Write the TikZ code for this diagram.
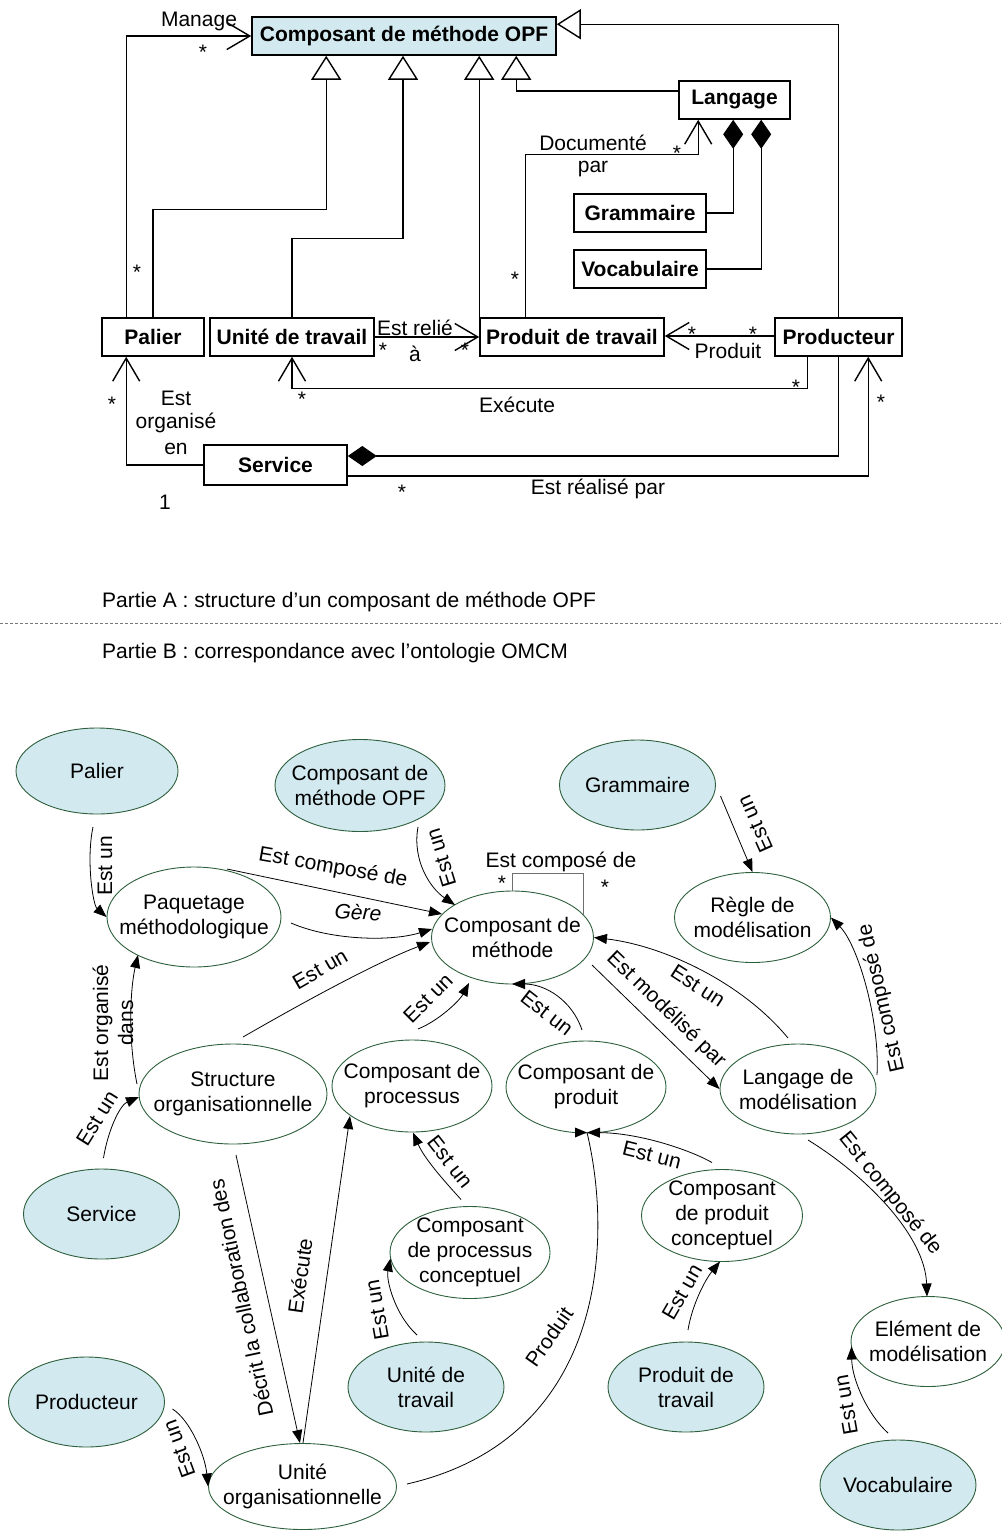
\documentclass[tikz,border=0pt]{standalone}
\usepackage{fontspec}
\setmainfont{Liberation Sans}
\usetikzlibrary{arrows.meta,calc,shapes.geometric}

\definecolor{paleblue}{RGB}{210,233,239}
\definecolor{rimgreen}{RGB}{45,95,60}
\definecolor{loopgray}{RGB}{110,110,110}
\definecolor{dashgray}{RGB}{120,120,120}

\newcommand\dgfont{\fontsize{21}{25}\selectfont}

\begin{document}
\begin{tikzpicture}[x=1pt,y=-1pt,
  every node/.style={font=\dgfont, inner sep=0pt},
  umlbox/.style={draw, line width=1.6pt, minimum height=38pt, font=\dgfont\bfseries},
  assoc/.style={line width=1.1pt, -{Straight Barb[length=23pt,width=27pt,line width=1.4pt]}},
  inherit/.style={line width=1.1pt, -{Triangle[open,length=24pt,width=30pt,line width=1.4pt]}},
  compose/.style={line width=1.1pt, {Diamond[length=29pt,width=20pt]}-},
  mult/.style={anchor=base},
  concept/.style={ellipse, draw=rimgreen, line width=0.9pt, align=center, inner xsep=-30pt, inner ysep=-6pt},
  source/.style={concept, fill=paleblue},
  relline/.style={line width=0.8pt},
  rel/.style={relline, -{Triangle[length=13pt,width=10pt]}},
  looprel/.style={draw=loopgray, line width=1pt},
]
\path[use as bounding box] (0,0) rectangle (1001,1533);

% ---------- Part A: UML structure ----------
\node[umlbox, fill=paleblue, minimum width=304pt] (opf) at (404,36) {Composant de méthode OPF};
\node[umlbox, minimum width=111pt] (lang) at (734.5,100) {Langage};
\node[umlbox, minimum width=132pt] (gram) at (640,213) {Grammaire};
\node[umlbox, minimum width=132pt] (voc) at (640,269) {Vocabulaire};
\node[umlbox, minimum width=102pt] (pal) at (153,337) {Palier};
\node[umlbox, minimum width=164pt] (ut) at (292,337) {Unité de travail};
\node[umlbox, minimum width=184pt] (pt) at (572,337) {Produit de travail};
\node[umlbox, minimum width=127pt] (prod) at (838.5,337) {Producteur};
\node[umlbox, minimum width=143pt, minimum height=40pt] (serv) at (275.5,465) {Service};

% generalisations
\draw[inherit] (pal.north) |- ($(opf.south west)+(75,154)$) -- ($(opf.south west)+(75,0)$);
\draw[inherit] (ut.north) |- ($(opf.south)+(-1,183)$) -- ($(opf.south)+(-1,0)$);
\draw[inherit] (pt.north west) -- (pt.north west |- opf.south);
\draw[inherit] ($(lang.west)+(0,-9)$) -| ($(opf.south west)+(265,0)$);
\draw[inherit] (prod.north) |- ($(opf.north east)+(0,8)$);

% associations
\draw[assoc] ($(pal.north west)+(25,0)$) |- (opf.west);
\draw[assoc] ($(pt.north west)+(46,0)$) |- ($(lang.south west)+(20,35)$) -- ($(lang.south west)+(20,0)$);
\draw[assoc] (ut.east) -- (pt.west);
\draw[assoc] ($(prod.west)+(0,-1)$) -- ($(pt.east)+(0,-1)$);
\draw[assoc] ($(prod.south west)+(33,0)$) |- ($(ut.south)+(0,32)$) -- (ut.south);
\draw[assoc] (serv.west) -| ($(pal.south west)+(25,0)$);
\draw[assoc] ($(serv.east)+(0,11)$) -| ($(prod.south west)+(94,0)$);

% compositions
\draw[compose] ($(lang.south west)+(55,0)$) |- (gram.east);
\draw[compose] ($(lang.south west)+(83,0)$) |- (voc.east);
\draw[compose] ($(serv.east)+(0,-9)$) -| (prod.south);

% role names and multiplicities (base = baseline of the last line)
\node[anchor=base] at (199,27) {Manage};
\node[anchor=base, align=center] at (593,173) {Documenté\\[-3pt]par};
\node[anchor=base] at (415,335) {Est relié};
\node[anchor=base] at (415,361) {à};
\node[anchor=base] at (728,358) {Produit};
\node[anchor=base] at (517,412) {Exécute};
\node[anchor=base, align=center] at (176,454) {Est\\[-2pt]organisé\\[1pt]en};
\node[anchor=base] at (165,509) {1};
\node[anchor=base] at (598,494) {Est réalisé par};

\foreach \sx/\sy in {203/60, 137/279, 677/161, 515/286, 383/357, 465/357,
                     692/341, 753/341, 302/406, 796/394, 112/411, 402/499, 881/409}
  \node[mult] at (\sx,\sy) {*};

% ---------- separation ----------
\node[anchor=base west] at (102,607) {Partie A : structure d’un composant de méthode OPF};
\draw[dashgray, line width=0.8pt, dash pattern=on 3pt off 2pt] (0,623) -- (1001,623);
\node[anchor=base west] at (102,658) {Partie B : correspondance avec l’ontologie OMCM};

% ---------- Part B: OMCM concepts ----------
\node[source, minimum width=162pt, minimum height=86pt] (pal2) at (97,771) {Palier};
\node[source, minimum width=170pt, minimum height=92pt] (opf2) at (360,785.5) {Composant de\\méthode OPF};
\node[source, minimum width=156pt, minimum height=90pt] (gram2) at (637.5,785) {Grammaire};
\node[concept, minimum width=174pt, minimum height=100pt] (paq) at (194,917) {Paquetage\\méthodologique};
\node[concept, minimum width=162pt, minimum height=93pt] (cm) at (512.5,937.5) {Composant de\\méthode};
\node[concept, minimum width=156pt, minimum height=90pt] (regle) at (752.5,917.5) {Règle de\\modélisation};
\node[concept, minimum width=188pt, minimum height=100pt] (struct) at (233,1094) {Structure\\organisationnelle};
\node[concept, minimum width=160pt, minimum height=92pt] (cp) at (412,1086) {Composant de\\processus};
\node[concept, minimum width=160pt, minimum height=92pt] (cprod) at (586,1087) {Composant de\\produit};
\node[concept, minimum width=156pt, minimum height=90pt] (langm) at (798,1089) {Langage de\\modélisation};
\node[source, minimum width=156pt, minimum height=90pt] (serv2) at (101.5,1214) {Service};
\node[concept, minimum width=160pt, minimum height=92pt] (cpc) at (470,1252.5) {Composant\\de processus\\conceptuel};
\node[concept, minimum width=161pt, minimum height=92pt] (cprc) at (722,1215.5) {Composant\\de produit\\conceptuel};
\node[concept, minimum width=154pt, minimum height=90pt] (elem) at (928,1341.5) {Elément de\\modélisation};
\node[source, minimum width=156pt, minimum height=90pt] (ut2) at (426,1387) {Unité de\\travail};
\node[source, minimum width=156pt, minimum height=90pt] (pt2) at (686,1387) {Produit de\\travail};
\node[source, minimum width=156pt, minimum height=90pt] (prod2) at (86.5,1402) {Producteur};
\node[concept, minimum width=188pt, minimum height=86pt] (uo) at (302.5,1486.5) {Unité\\organisationnelle};
\node[source, minimum width=156pt, minimum height=90pt] (voc2) at (898,1485) {Vocabulaire};

% meeting point of the two arrows under "Composant de produit"
\coordinate (cprodtip) at ($(cprod)+(1,45.5)$);

% relations
\draw[rel] ($(pal2)+(-4,56)$) .. controls (86,860) and (93,905) .. (paq.west);
\node[rotate=90] at (105,866) {Est un};

\draw[rel] ($(paq)+(33,-48)$) -- ($(cm)+(-70.5,-23.5)$);
\node[rotate=-10] at (333,868) {Est composé de};

\draw[rel] ($(paq)+(97,6)$) .. controls (330,940) and (390,942) .. ($(cm)+(-80.5,-8.5)$);
\node[rotate=-3, font=\dgfont\itshape] at (358,912) {Gère};

\draw[rel] ($(struct)+(10,-57)$) .. controls (290,1010) and (370,965) .. ($(cm)+(-82.5,4.5)$);
\node[rotate=30] at (320,969) {Est un};

\draw[rel] ($(opf2)+(58,41.5)$) .. controls (412,860) and (430,888) .. ($(cm)+(-57.5,-32.5)$);
\node[rotate=107] at (441,858) {Est un};

\draw[rel] ($(cp)+(6,-57)$) .. controls (440,1020) and (460,1000) .. ($(cm)+(-43.5,45.5)$);
\node[rotate=45] at (428,998) {Est un};

\draw[rel] ($(cprod)+(-4,-57)$) .. controls (572,1000) and (545,984) .. ($(cm)+(-0.5,46.5)$);
\node[rotate=-38] at (547,1013) {Est un};

\draw[rel] ($(cm)+(79.5,27.5)$) -- (langm.west);
\node[rotate=-44] at (666,1010) {Est modélisé par};

\draw[rel] ($(langm)+(-10,-51)$) .. controls (740,980) and (660,945) .. (cm.east);
\node[rotate=-33] at (698,986) {Est un};

\draw[rel] ($(langm)+(79,-14)$) .. controls (880,1020) and (858,945) .. (regle.east);
\node[rotate=103] at (882,998) {Est composé de};

\draw[rel] ($(gram2)+(83,11)$) -- (regle.north);
\node[rotate=114] at (755,824) {Est un};

\draw[looprel] (cm.north) -- ++(0,-17) -| ($(cm)+(70.5,-23)$);
\node[anchor=base] at (561,867) {Est composé de};
\node[mult] at (502,890) {*};
\node[mult] at (605,894) {*};

\draw[rel] ($(serv2)+(2,-56)$) .. controls (108,1130) and (120,1105) .. ($(struct)+(-94,3)$);
\node[rotate=58] at (97,1118) {Est un};

\draw[rel] ($(struct)+(-96,-10)$) .. controls (128,1040) and (130,990) .. ($(paq)+(-56,38)$);
\node[rotate=90, align=center] at (113,1023) {Est organisé\\dans};

\draw[rel] ($(struct)+(3,61)$) -- ($(uo)+(-2.5,-43.5)$);
\node[rotate=102] at (241,1298) {Décrit la collaboration des};

\draw[rel] ($(uo)+(0.5,-43.5)$) -- ($(cp)+(-62,30)$);
\node[rotate=82] at (300,1276) {Exécute};

% "Produit": the curve rises to the tip, its head lies flat, pointing right
\draw[relline] ($(uo)+(104.5,-2.5)$) .. controls (600,1440) and (615,1250) .. (cprodtip);
\fill (cprodtip) -- ++(-12,-5) -- ++(0,10) -- cycle;
\node[rotate=55] at (549,1337) {Produit};

\draw[rel] ($(cpc)+(-9,-53)$) .. controls (448,1185) and (425,1160) .. ($(cp)+(1,46.5)$);
\node[rotate=-52] at (450,1162) {Est un};

\draw[rel] ($(ut2)+(-9,-52)$) .. controls (395,1315) and (386,1280) .. ($(cpc)+(-79.5,6)$);
\node[rotate=100] at (377,1310) {Est un};

\draw[rel] ($(cprc)+(-10,-53)$) .. controls (690,1150) and (640,1133) .. (cprodtip);
\node[rotate=-14] at (652,1155) {Est un};

\draw[rel] ($(pt2)+(2,-57)$) .. controls (692,1305) and (705,1280) .. ($(cprc)+(-2,46)$);
\node[rotate=60] at (682,1292) {Est un};

\draw[rel] ($(langm)+(10,51)$) .. controls (865,1175) and (925,1235) .. ($(elem)+(-1,-45)$);
\node[rotate=-51] at (890,1194) {Est composé de};

\draw[rel] ($(voc2)+(-10,-52)$) .. controls (868,1415) and (852,1380) .. ($(elem)+(-76.5,5)$);
\node[rotate=100] at (846,1405) {Est un};

\draw[rel] ($(prod2)+(86,7)$) .. controls (190,1420) and (205,1455) .. (uo.west);
\node[rotate=110] at (179,1449) {Est un};

\end{tikzpicture}
\end{document}
